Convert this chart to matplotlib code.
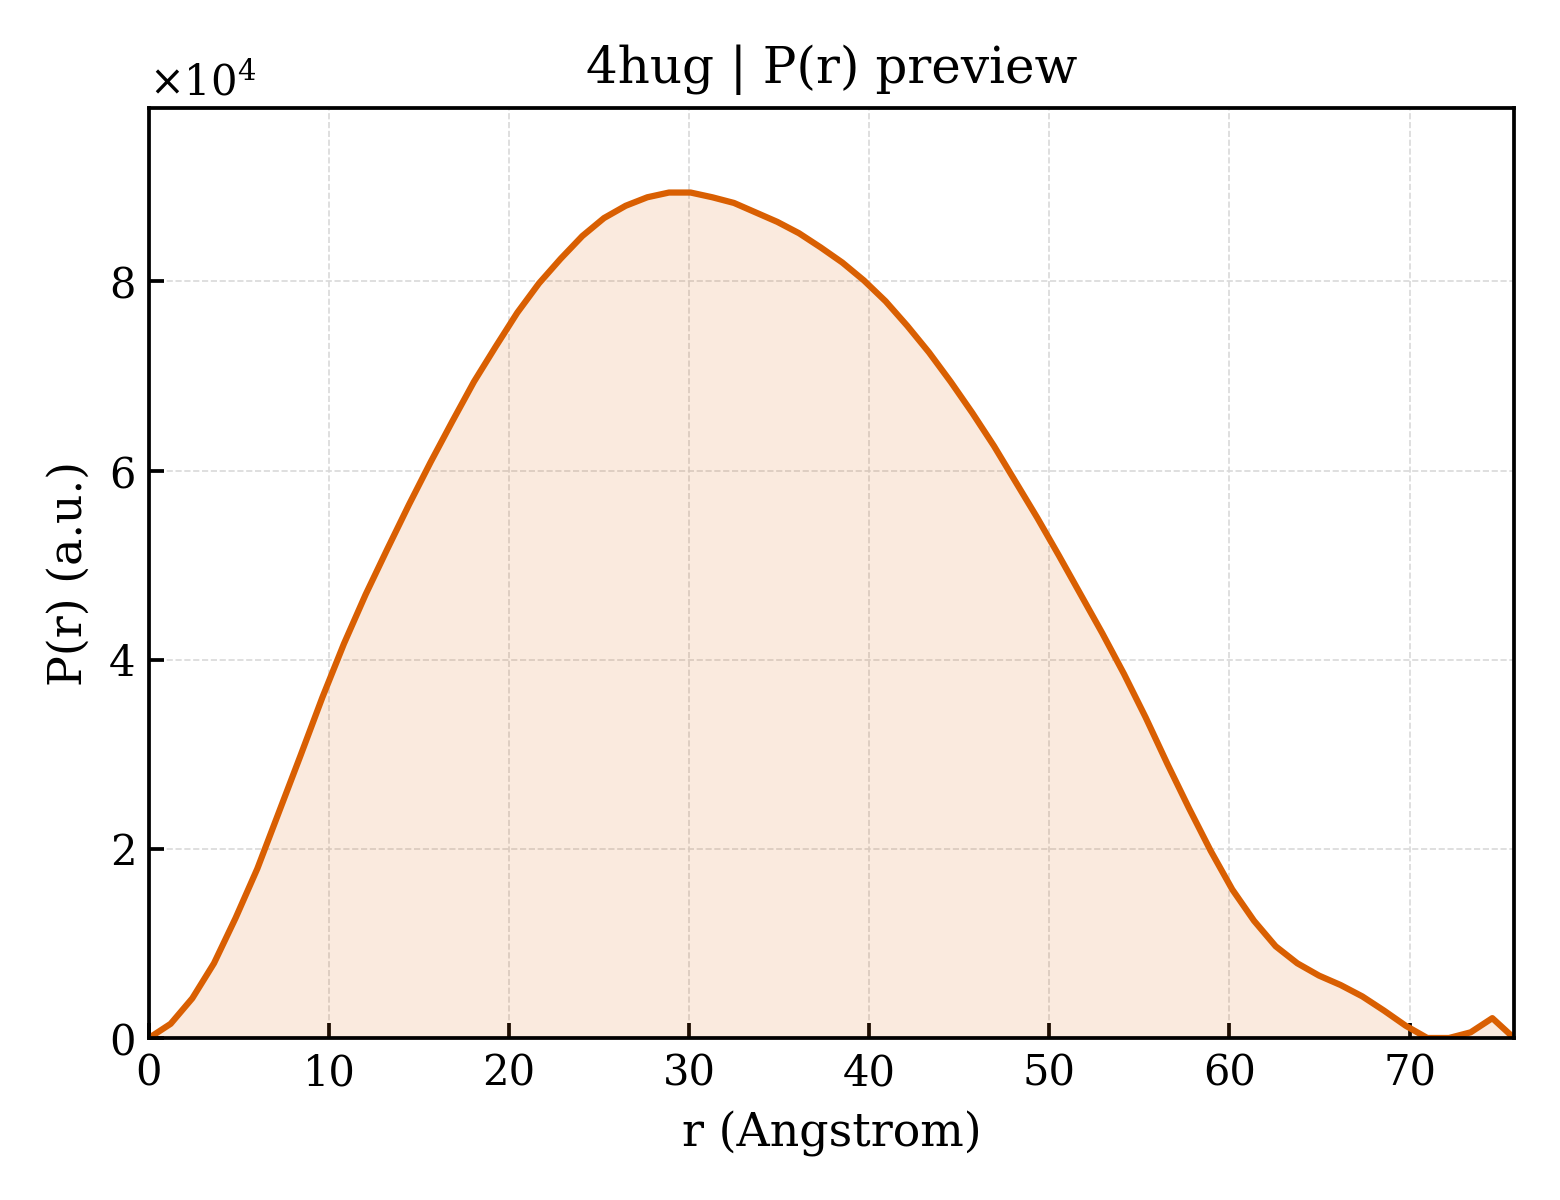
import numpy as np
import matplotlib
matplotlib.use("Agg")
import matplotlib.pyplot as plt
from matplotlib.ticker import ScalarFormatter

# P(r) preview for 4hug
r_max = 75.8
r = np.linspace(0, r_max, 64)
pr = [0, 1500, 4200, 7900, 12700, 17900, 23900, 29900, 36000, 41700,
      46900, 51700, 56400, 60900, 65200, 69400, 73100, 76700, 79800, 82400,
      84800, 86700, 88000, 88900, 89400, 89400, 88900, 88300, 87300, 86300,
      85100, 83600, 82000, 80100, 77900, 75300, 72500, 69400, 66100, 62600,
      58800, 55000, 51000, 46900, 42800, 38500, 33900, 29000, 24300, 19800,
      15700, 12400, 9700, 7900, 6600, 5600, 4400, 2900, 1300, 0,
      0, 600, 2100, 0]
pr = np.array(pr, dtype=float)

color = "#D95F02"

plt.rcParams["font.family"] = "DejaVu Serif"
plt.rcParams["mathtext.fontset"] = "dejavuserif"

fig, ax = plt.subplots(figsize=(5.2, 4), dpi=300)
fig.subplots_adjust(left=0.0955, right=0.9705, bottom=0.135, top=0.91)

ax.fill_between(r, pr, 0, color=color, alpha=0.13, linewidth=0)
ax.plot(r, pr, color=color, lw=1.5)

ax.set_xlim(0, r_max)
ax.set_ylim(0, 1.1 * pr.max())
ax.set_xticks([0, 10, 20, 30, 40, 50, 60, 70])

fmt = ScalarFormatter(useMathText=True)
fmt.set_powerlimits((0, 0))
ax.yaxis.set_major_formatter(fmt)
ax.yaxis.get_offset_text().set_fontsize(10)

ax.tick_params(direction="in", top=False, right=False, labelsize=10,
               length=3.5, width=0.9)
for s in ax.spines.values():
    s.set_linewidth(0.9)

ax.grid(True, linestyle="--", linewidth=0.4, color="0.85")
ax.set_axisbelow(True)

ax.set_title("4hug | P(r) preview", fontsize=12)
ax.set_xlabel("r (Angstrom)", fontsize=11)
ax.set_ylabel("P(r) (a.u.)", fontsize=11)

fig.savefig("out.png", dpi=300)
